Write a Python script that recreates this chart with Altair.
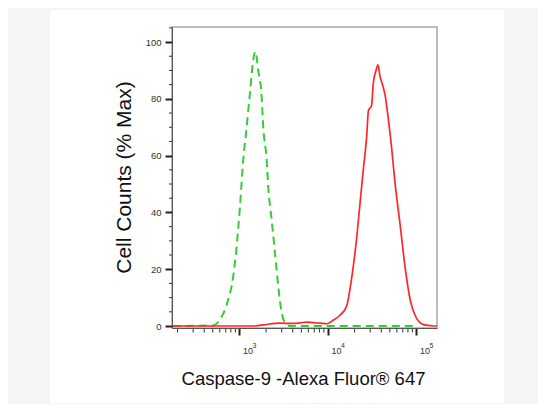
import altair as alt
import pandas as pd

# Green dashed histogram (isotype / control)
green_x = [177, 502, 602, 747, 851, 930, 1013, 1104, 1206, 1314, 1432, 1516, 1631,
           1781, 1857, 2029, 2116, 2311, 2519, 2744, 2999, 3267, 3721, 101300]
green_y = [0, 0.2, 2.3, 9.3, 17.5, 28, 42, 58.5, 70, 82, 93.7, 96.6, 90,
           80.8, 70.2, 58.5, 49, 37.4, 25.8, 14, 4.7, 1.2, 0, 0]

# Red solid histogram (Caspase-9 stained)
red_x = [177, 1421, 1843, 2868, 4022, 4827, 5790, 6768, 8122, 9743, 11390, 13660,
         16270, 17730, 19320, 21100, 22990, 25050, 27370, 28680, 31010, 32510,
         34870, 36730, 38700, 41280, 44070, 48020, 52460, 57180, 65120, 74160,
         84460, 96180, 109500, 124700, 149700, 170000]
red_y = [0, 0, 0.4, 1.0, 0.9, 1.1, 1.4, 1.2, 1.0, 0.8, 2.0, 3.8,
         7, 13, 21, 31, 43, 55, 66.7, 76, 77.5, 85.5,
         90, 92, 88, 85, 81.5, 73, 62.5, 50.5, 36, 21,
         9.5, 3.8, 1.2, 0.4, 0.1, 0]

y_major = [0, 20, 40, 60, 80, 100]
y_minor = [v for v in range(5, 106, 5) if v % 20 != 0]
x_major = [1000, 10000, 100000]
x_exponents = ["3", "4", "5"]
x_minor = [m * 10 ** k for k in (2, 3, 4) for m in range(2, 10)]
x_title = "Caspase-9 -Alexa Fluor® 647"
y_title = "Cell Counts (% Max)"

green = pd.DataFrame({"x": green_x, "y": green_y})
red = pd.DataFrame({"x": red_x, "y": red_y})
xmin_df = pd.DataFrame({"v": x_minor})
ymin_df = pd.DataFrame({"v": y_minor})
exp_df = pd.DataFrame({"v": x_major, "e": x_exponents})
one = pd.DataFrame({"a": [0]})

W, H = 265, 301
xs = alt.Scale(type="log", domain=[173, 170500], nice=False)
ys = alt.Scale(domain=[-0.7, 105.3], nice=False, zero=False)
FONT = "Liberation Sans"

panel = alt.Chart(one).mark_rect(color="white").encode(
    x=alt.value(-122), x2=alt.value(332), y=alt.value(-17), y2=alt.value(376)
)
frame = alt.Chart(one).mark_rect(fillOpacity=0, stroke="#a8a8a8", strokeWidth=1.5).encode(
    x=alt.value(0), x2=alt.value(W), y=alt.value(0), y2=alt.value(H)
)

x_minor_ticks = alt.Chart(xmin_df).mark_rule(color="#333", strokeWidth=1).encode(
    x=alt.X("v:Q", scale=xs, axis=None), y=alt.value(H), y2=alt.value(H + 4.5)
)
y_minor_ticks = alt.Chart(ymin_df).mark_rule(color="#333", strokeWidth=1).encode(
    y=alt.Y("v:Q", scale=ys, axis=None), x=alt.value(0), x2=alt.value(-3)
)
exponents = alt.Chart(exp_df).mark_text(
    font=FONT, fontSize=7, color="#333", align="left", baseline="alphabetic", dx=13
).encode(
    x=alt.X("v:Q", scale=xs, axis=None), y=alt.value(H + 20), text="e:N"
)

g_line = alt.Chart(green).mark_line(
    color="#36cc36", strokeWidth=2, strokeDash=[8, 5], interpolate="monotone"
).encode(
    x=alt.X("x:Q", scale=xs, axis=alt.Axis(
        orient="bottom", values=x_major, labelExpr="'10'",
        tickSize=7, tickWidth=2, tickColor="#222", domainColor="#555", domainWidth=1,
        labelFont=FONT, labelFontSize=9, labelColor="#333", labelAlign="left", labelOffset=3,
        labelPadding=18, labelBaseline="alphabetic", grid=False, zindex=1,
        title=x_title, titleFont=FONT, titleFontSize=18.5, titleFontWeight="normal",
        titleColor="#111", titleX=131, titleY=56, titleBaseline="alphabetic",
        titleAlign="center", titleAnchor="middle")),
    y=alt.Y("y:Q", scale=ys, axis=alt.Axis(
        orient="left", values=y_major,
        tickSize=7, tickWidth=2, tickColor="#222", domainColor="#555", domainWidth=1,
        labelFont=FONT, labelFontSize=9.5, labelColor="#333", labelPadding=4,
        grid=False, zindex=1,
        title=y_title, titleFont=FONT, titleFontSize=21, titleFontWeight="normal",
        titleColor="#111", titleX=-42, titleY=150, titleAngle=270,
        titleBaseline="alphabetic", titleAlign="center", titleAnchor="middle")),
)

r_line = alt.Chart(red).mark_line(
    color="#ff2626", strokeWidth=1.7, interpolate="monotone"
).encode(
    x=alt.X("x:Q", scale=xs, axis=None),
    y=alt.Y("y:Q", scale=ys, axis=None),
)

chart = alt.layer(panel, frame, x_minor_ticks, y_minor_ticks, exponents, g_line, r_line).resolve_axis(
    x="independent", y="independent"
).properties(
    width=W, height=H,
    autosize=alt.AutoSizeParams(type="none"),
    padding={"left": 164, "top": 19, "right": 101, "bottom": 76},
    background="#f5f5f5",
).configure_view(stroke=None)

chart.save("out.html", embed_options={"renderer": "svg", "actions": False})
